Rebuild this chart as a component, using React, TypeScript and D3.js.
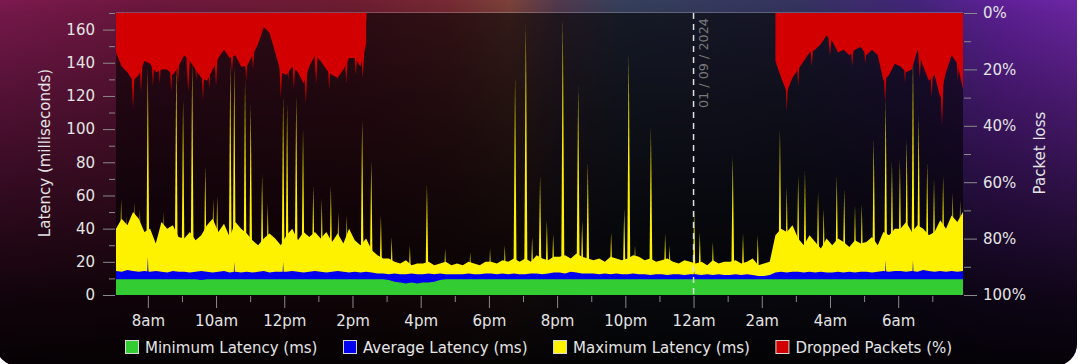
import * as React from 'react'
import * as d3 from 'd3'

// one reading every 10 minutes, 07:04 on 31 Aug to 07:54 on 1 Sep
const start = new Date(2024, 7, 31, 7, 4)
const end = new Date(2024, 8, 1, 7, 54)
const stepMinutes = 10

// six readings per row, one row per hour (ms)
const maxLatency = [
  40, 46, 42, 50, 46, 38, // 7am
  40, 31, 44, 40, 42, 35,
  34, 38, 33, 36, 42, 46,
  38, 43, 35, 44, 40, 37, // 10am
  33, 30, 34, 37, 34, 30,
  36, 40, 33, 38, 35, 38, // 12pm
  34, 38, 32, 37, 31, 40,
  33, 30, 34, 27, 24, 22, // 2pm
  22, 20, 19, 21, 18, 19,
  19, 20, 18, 19, 20, 18, // 4pm
  19, 18, 20, 19, 18, 20,
  20, 19, 21, 20, 22, 20, // 6pm
  22, 20, 24, 22, 21, 23,
  23, 24, 22, 25, 23, 22, // 8pm
  21, 22, 20, 23, 22, 21,
  22, 24, 23, 21, 22, 20, // 10pm
  21, 22, 20, 19, 21, 20,
  19, 20, 18, 21, 19, 20, // 12am
  20, 21, 19, 20, 22, 18,
  19, 20, 36, 40, 38, 42, // 2am
  34, 30, 36, 32, 28, 34,
  30, 34, 32, 29, 33, 31, // 4am
  32, 35, 30, 38, 36, 40,
  40, 44, 38, 42, 40, 36, // 6am
  38, 45, 40, 48, 44, 50,
]

const avgLatency = [
  14.5, 14, 15, 14.5, 14, 14.5,
  14, 14.5, 14, 13.5, 14.5, 14,
  14, 13.5, 14, 14.5, 14, 13.5,
  14, 14.5, 13.5, 14, 13.5, 14,
  13.5, 14, 14.5, 13.5, 14, 14,
  14, 14.5, 14, 13.5, 14, 14.5,
  14, 13.5, 14, 14.5, 14, 13.5,
  14, 13.5, 14, 13.5, 13, 13,
  12.5, 13, 12.5, 12.5, 13, 12.5,
  12.5, 13, 12.5, 13, 12.5, 12.5,
  12.5, 12.5, 13, 12.5, 12.5, 13,
  13, 12.5, 13, 12.5, 13, 12.5,
  12.5, 13, 13, 12.5, 13, 13.5,
  13.5, 13, 14, 13.5, 13, 13,
  13, 12.5, 13, 12.5, 13, 12.5,
  12.5, 13, 12.5, 12.5, 12, 12.5,
  12.5, 12, 12.5, 12.5, 12, 12.5,
  12.5, 12, 12.5, 12, 12.5, 12,
  12, 12.5, 12, 12.5, 12, 11.5,
  11.5, 12, 13.5, 14, 13.5, 14,
  14, 13.5, 14, 13.5, 14, 13.5,
  13.5, 14, 13.5, 14, 13.5, 14,
  14, 13.5, 14, 14.5, 14, 14.5,
  14.5, 14, 14.5, 14, 15, 14.5,
  14, 14.5, 14, 14.5, 14, 14.5,
]

const minLatency = [
  9.5, 9.5, 9.5, 9.5, 9.5, 9.5,
  9.5, 9.5, 9.5, 9.5, 9.5, 9.5,
  9.5, 9.5, 9.5, 9, 9.5, 9.5,
  9.5, 9.5, 9.5, 9.5, 9.5, 9.5,
  9.5, 9.5, 9.5, 9.5, 9.5, 9.5,
  9.5, 9.5, 9.5, 9.5, 9.5, 9.5,
  9.5, 9.5, 9.5, 9.5, 9.5, 9.5,
  9.5, 9.5, 9.5, 9.5, 9.5, 9.5,
  9, 8, 7.5, 7, 7.5, 7,
  7.5, 7.5, 8, 9, 9.5, 9.5,
  9.5, 9.5, 9.5, 9.5, 9.5, 9.5,
  9.5, 9.5, 9.5, 9.5, 9.5, 9.5,
  9.5, 9.5, 9.5, 9.5, 9.5, 9.5,
  9.5, 9.5, 9.5, 9.5, 9.5, 9.5,
  9.5, 9.5, 9.5, 9.5, 9.5, 9.5,
  9.5, 9.5, 9.5, 9.5, 9.5, 9.5,
  9.5, 9.5, 9.5, 9.5, 9.5, 9.5,
  9.5, 9.5, 9.5, 9.5, 9.5, 9.5,
  9.5, 9.5, 9.5, 9.5, 9.5, 9.5,
  9.5, 9.5, 9.5, 9.5, 9.5, 9.5,
  9.5, 9.5, 9.5, 9.5, 9.5, 9.5,
  9.5, 9.5, 9.5, 9.5, 9.5, 9.5,
  9.5, 9.5, 9.5, 9.5, 9.5, 9.5,
  9.5, 9.5, 9.5, 9.5, 9.5, 9.5,
  9.5, 9.5, 9.5, 9.5, 9.5, 9.5,
]

// short peaks: [minutes after start, ms]
const maxSpikes: [number, number][] = [
  [9, 58], [19, 48], [33, 56], [42, 52], [56, 137], [83, 50], [106, 140], [118, 118],
  [134, 140], [157, 78], [171, 58], [178, 60], [201, 140], [208, 138], [227, 130],
  [237, 115], [257, 73], [267, 55], [294, 120], [301, 115], [317, 120], [329, 100],
  [347, 66], [362, 58], [378, 66], [391, 50], [406, 48], [433, 106], [449, 81], [466, 48],
  [485, 35], [517, 30], [547, 67], [579, 28], [623, 26], [658, 28], [684, 30], [702, 132],
  [721, 164], [732, 35], [746, 72], [758, 45], [769, 37], [786, 167], [813, 126], [820, 45],
  [830, 80], [871, 38], [894, 52], [902, 146], [913, 30], [941, 101], [966, 37], [974, 30],
  [1017, 52], [1027, 38], [1050, 32], [1085, 84], [1103, 37],
  [1129, 36], [1168, 100], [1180, 65], [1200, 72], [1212, 75], [1235, 62], [1245, 52],
  [1268, 72], [1281, 64], [1300, 54], [1312, 55], [1333, 94], [1354, 118], [1365, 81],
  [1379, 82], [1391, 94], [1402, 143], [1412, 108], [1427, 80], [1439, 70], [1455, 72],
  [1472, 62], [1485, 57],
]
const avgSpikes: [number, number][] = [
  [56, 23], [208, 20], [294, 20], [1017, 15], [1354, 21], [1402, 21],
]

// dropped packets (%), two runs of loss
const dropsDayStart = new Date(2024, 7, 31, 7, 4)
const dropsDay = [
  14, 19, 21, 24, 22, 17,
  18, 21, 20, 20, 22, 19,
  15, 17, 20, 23, 24, 20,
  16, 13, 16, 15, 19, 19,
  15, 11, 5, 7, 14, 21,
  22, 19, 21, 25, 19, 15,
  17, 20, 22, 23, 20, 16,
  16, 19, 11,
]
const dropsNightStart = new Date(2024, 8, 1, 2, 24)
const dropsNight = [
  17, 23, 28, 23,
  20, 17, 14, 13, 11, 8,
  10, 14, 13, 15, 13, 12,
  15, 13, 15, 24, 22, 18,
  19, 21, 20, 13, 19, 24,
  22, 30, 21, 15, 18, 27,
]
// brief deeper bursts of loss: [minutes after start, %]
const dropSpikes: [number, number][] = [
  [30, 34], [44, 28], [65, 26], [77, 25], [97, 28], [109, 25], [127, 28], [141, 24],
  [153, 31], [164, 27], [176, 26], [204, 21], [229, 24], [241, 20], [290, 30], [303, 24],
  [313, 27], [334, 32], [352, 25], [375, 27], [389, 24], [405, 25], [422, 22], [434, 23],
  [1180, 35], [1200, 26], [1224, 19], [1256, 15], [1295, 19], [1318, 18], [1353, 32],
  [1388, 25], [1414, 23], [1435, 30], [1453, 40], [1481, 24],
]

const latencyTicks = [0, 20, 40, 60, 80, 100, 120, 140, 160]
const latencyMinor = [10, 30, 50, 70, 90, 110, 130, 150, 170]
const lossTicks = [0, 20, 40, 60, 80, 100]
const lossMinor = [10, 30, 50, 70, 90]

const dayMarker = new Date(2024, 8, 1, 0, 0)
const dayMarkerLabel = '01 / 09 / 2024'

const legendLabels = ['Minimum Latency (ms)', 'Average Latency (ms)', 'Maximum Latency (ms)', 'Dropped Packets (%)']
const legendColors = ['#33cc33', '#0000ee', '#fff200', '#d20000']

const font = '"DejaVu Sans", sans-serif'
const fontSize = 15

function draw(node: SVGSVGElement) {
  const svg = d3.select(node)
  svg.selectAll('*').remove()

  const x = d3.scaleTime().domain([start, end]).range([116, 963])
  const y = d3.scaleLinear().domain([0, 170]).range([295, 13])
  const yLoss = d3.scaleLinear().domain([0, 100]).range([13, 295])
  const at = (from: Date, i: number) => d3.timeMinute.offset(from, i * stepMinutes)

  // window background
  const defs = svg.append('defs')
  const wall = defs.append('linearGradient').attr('id', 'wall')
  ;[
    [0, '#8c1d5a'], [0.14, '#7c1a46'], [0.33, '#7c2038'], [0.42, '#86303a'],
    [0.475, '#8c4a42'], [0.52, '#5c4058'], [0.58, '#3c4868'], [0.74, '#3c3a6c'],
    [0.85, '#4c2a8a'], [0.93, '#6c24ac'], [1, '#7c2cbc'],
  ].forEach(([o, c]) => wall.append('stop').attr('offset', o).attr('stop-color', c))
  const fade = defs.append('linearGradient').attr('id', 'fade')
    .attr('x1', 0).attr('x2', 0).attr('y1', 0).attr('y2', 1)
  ;[
    [0, 0.05], [0.08, 0.12], [0.11, 0.18], [0.33, 0.42], [0.58, 0.66], [0.83, 0.88], [1, 0.96],
  ].forEach(([o, a]) => fade.append('stop').attr('offset', o).attr('stop-color', '#000').attr('stop-opacity', a))

  const win = { x: -4, y: -30, width: 1081, height: 396, rx: 22 }
  ;['url(#wall)', 'url(#fade)'].forEach(fill =>
    svg.append('rect').attr('x', win.x).attr('y', win.y).attr('width', win.width)
      .attr('height', win.height).attr('rx', win.rx).attr('fill', fill))

  svg.append('rect')
    .attr('x', x.range()[0]).attr('y', y.range()[1])
    .attr('width', x.range()[1] - x.range()[0]).attr('height', y.range()[0] - y.range()[1])
    .attr('fill', '#000').attr('opacity', 0.56)

  const plot = svg.append('g')

  const latencyArea = d3.area<number>()
    .x((_, i) => x(at(start, i)))
    .y0(y(0))
    .y1(d => y(d))

  // thin triangular peak from a baseline
  const needle = (m: number, base: number, tip: number, hw: number) => {
    const cx = x(d3.timeMinute.offset(start, m))
    return d3.line()([[cx - hw, base], [cx, tip], [cx + hw, base]]) + 'Z'
  }

  plot.append('path').attr('d', latencyArea(maxLatency)).attr('fill', legendColors[2])
  plot.selectAll('.max-spike').data(maxSpikes).enter().append('path')
    .attr('d', d => needle(d[0], y(0), y(d[1]), 1.7)).attr('fill', legendColors[2])
  plot.append('path').attr('d', latencyArea(avgLatency)).attr('fill', legendColors[1])
  plot.selectAll('.avg-spike').data(avgSpikes).enter().append('path')
    .attr('d', d => needle(d[0], y(0), y(d[1]), 1.5)).attr('fill', legendColors[1])
  plot.append('path').attr('d', latencyArea(minLatency)).attr('fill', legendColors[0])

  const dropArea = (from: Date) => d3.area<number>()
    .x((_, i) => x(at(from, i)))
    .y0(yLoss(0))
    .y1(d => yLoss(d))
  plot.append('path').attr('d', dropArea(dropsDayStart)(dropsDay)).attr('fill', legendColors[3])
  plot.append('path').attr('d', dropArea(dropsNightStart)(dropsNight)).attr('fill', legendColors[3])
  plot.selectAll('.drop-spike').data(dropSpikes).enter().append('path')
    .attr('d', d => needle(d[0], yLoss(0), yLoss(d[1]), 4)).attr('fill', legendColors[3])

  // top frame line
  svg.append('line')
    .attr('x1', x.range()[0]).attr('x2', x.range()[1])
    .attr('y1', 12.5).attr('y2', 12.5)
    .attr('stroke', '#ffffff').attr('stroke-opacity', 0.22)

  // day boundary
  const mx = x(dayMarker)
  svg.append('line')
    .attr('x1', mx).attr('x2', mx).attr('y1', y.range()[1]).attr('y2', y.range()[0])
    .attr('stroke', '#e0e0e0').attr('stroke-width', 1.5).attr('stroke-dasharray', '6,5')
  svg.append('text')
    .attr('transform', `translate(${mx + 14},18) rotate(-90)`)
    .attr('text-anchor', 'end')
    .attr('font-family', font).attr('font-size', 12.8)
    .attr('fill', '#7a7a7a')
    .text(dayMarkerLabel)

  const styleAxis = (g: d3.Selection<SVGGElement, unknown, null, undefined>) => {
    g.select('.domain').remove()
    g.selectAll('line').attr('stroke', '#8a8a8a')
    g.selectAll('text').attr('fill', '#e4e4e4').attr('font-family', font).attr('font-size', fontSize)
  }

  // left axis
  svg.append('g').attr('transform', 'translate(115,0)')
    .call(d3.axisLeft(y).tickValues(latencyMinor).tickSize(6).tickFormat(() => ''))
    .call(styleAxis)
  svg.append('g').attr('transform', 'translate(115,0)')
    .call(d3.axisLeft(y).tickValues(latencyTicks).tickSize(12).tickPadding(8))
    .call(styleAxis)

  // right axis
  svg.append('g').attr('transform', 'translate(964,0)')
    .call(d3.axisRight(yLoss).tickValues(lossMinor).tickSize(7).tickFormat(() => ''))
    .call(styleAxis)
  svg.append('g').attr('transform', 'translate(964,0)')
    .call(d3.axisRight(yLoss).tickValues(lossTicks).tickSize(13).tickPadding(6).tickFormat(d => `${d}%`))
    .call(styleAxis)

  // bottom axis
  const hours = d3.timeHour.range(start, end)
  const fmt = d3.timeFormat('%-I%p')
  svg.append('g').attr('transform', 'translate(0,296)')
    .call(d3.axisBottom(x).tickValues(hours.filter(h => h.getHours() % 2 === 1)).tickSize(6).tickFormat(() => ''))
    .call(styleAxis)
  svg.append('g').attr('transform', 'translate(0,296)')
    .call(d3.axisBottom(x).tickValues(hours.filter(h => h.getHours() % 2 === 0)).tickSize(12).tickPadding(7)
      .tickFormat(d => fmt(d as Date).toLowerCase()))
    .call(styleAxis)

  // axis titles
  svg.append('text')
    .attr('transform', 'translate(45,153) rotate(-90)')
    .attr('text-anchor', 'middle').attr('dominant-baseline', 'central')
    .attr('font-family', font).attr('font-size', fontSize).attr('fill', '#e4e4e4')
    .text('Latency (milliseconds)')
  svg.append('text')
    .attr('transform', 'translate(1040,153) rotate(-90)')
    .attr('text-anchor', 'middle').attr('dominant-baseline', 'central')
    .attr('font-family', font).attr('font-size', fontSize).attr('fill', '#e4e4e4')
    .text('Packet loss')

  // legend
  let lx = 125.5
  legendLabels.forEach((label, i) => {
    const g = svg.append('g').attr('transform', `translate(${lx},340.5)`)
    g.append('rect').attr('width', 13).attr('height', 13)
      .attr('fill', legendColors[i]).attr('stroke', '#d8d8d8').attr('stroke-width', 1)
    const t = g.append('text').attr('x', 19.5).attr('y', 12)
      .attr('font-family', font).attr('font-size', fontSize).attr('fill', '#e4e4e4')
      .text(label)
    const w = (t.node() as SVGTextElement).getComputedTextLength()
    lx += 19.5 + w + 26
  })
}

export default function App() {
  const ref = React.useRef<SVGSVGElement>(null)

  React.useEffect(() => {
    if (ref.current) draw(ref.current)
  }, [])

  return (
    <svg ref={ref} width={1080} height={364}
      style={{ position: 'absolute', left: 0, top: 0, background: '#ffffff' }} />
  )
}
